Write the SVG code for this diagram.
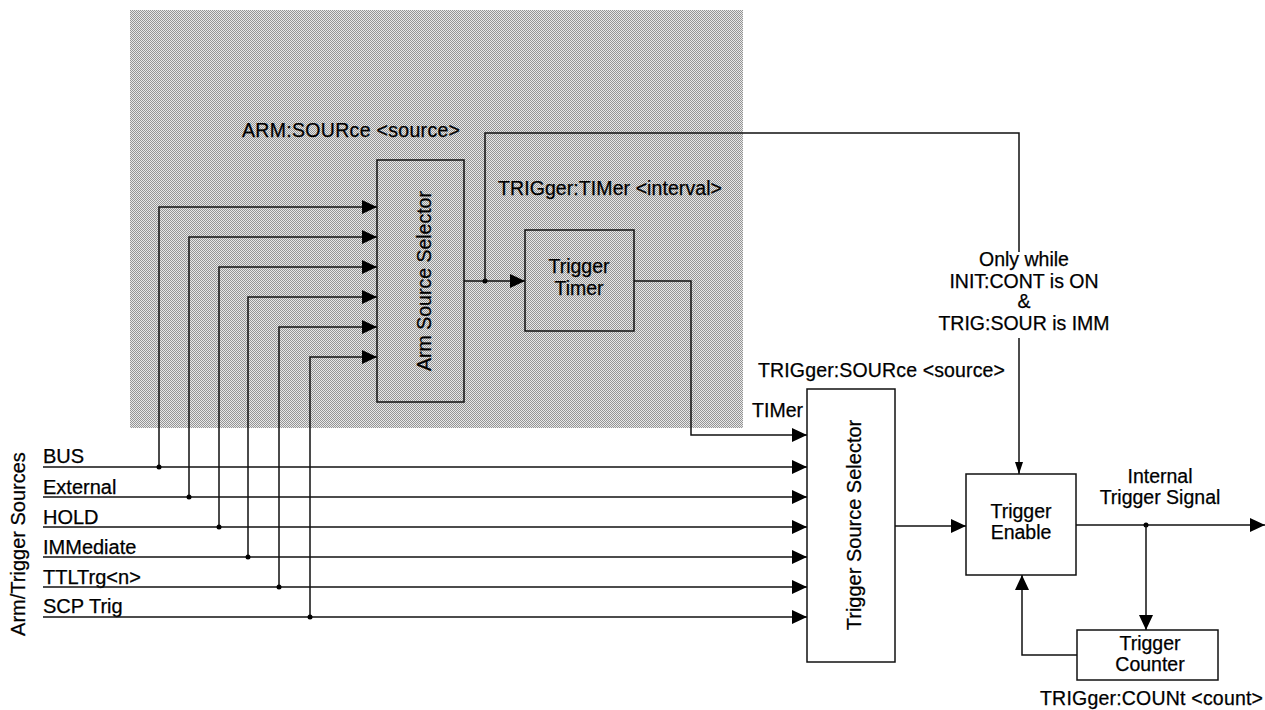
<svg xmlns="http://www.w3.org/2000/svg" width="1265" height="710" viewBox="0 0 1265 710">
<defs>
<pattern id="stipple" width="2" height="2" patternUnits="userSpaceOnUse">
<rect width="2" height="2" fill="#e8e8e8"/>
<rect width="1" height="1" fill="#959595"/>
<rect x="1" y="1" width="1" height="1" fill="#959595"/>
</pattern>
<marker id="arr" markerUnits="userSpaceOnUse" markerWidth="16" markerHeight="14" refX="15" refY="7" orient="auto"><path d="M0,0 L15,7 L0,14 z" fill="#000"/></marker>
<marker id="arrS" markerUnits="userSpaceOnUse" markerWidth="13" markerHeight="8" refX="12" refY="4" orient="auto"><path d="M0,0 L12,4 L0,8 z" fill="#000"/></marker>
</defs>
<style>
.ln{fill:none;stroke:#111;stroke-width:1.5}
.box{fill:#fff;stroke:#111;stroke-width:1.5}
.boxT{fill:none;stroke:#111;stroke-width:1.5}
text{font-family:"Liberation Sans",Arial,sans-serif;font-size:19.5px;fill:#000;stroke:#000;stroke-width:0.25}
.lbl{font-size:20px}
.c{text-anchor:middle}
.e{text-anchor:end}
.dot{fill:#000}
</style>
<rect width="1265" height="710" fill="#fff"/>
<rect id="shade" x="130" y="10" width="613" height="418" fill="url(#stipple)"/>

<g id="sources">
<text class="lbl" x="43" y="463">BUS</text>
<text class="lbl" x="43" y="494">External</text>
<text class="lbl" x="43" y="524">HOLD</text>
<text class="lbl" x="43" y="554">IMMediate</text>
<text class="lbl" x="43" y="584">TTLTrg&lt;n&gt;</text>
<text class="lbl" x="43" y="613">SCP Trig</text>
<text class="c lbl" transform="translate(25,544) rotate(-90)">Arm/Trigger Sources</text>
</g>

<g id="connectors">
<path class="ln" d="M43,467 H807" marker-end="url(#arr)"/>
<path class="ln" d="M43,497 H807" marker-end="url(#arr)"/>
<path class="ln" d="M43,527 H807" marker-end="url(#arr)"/>
<path class="ln" d="M43,557 H807" marker-end="url(#arr)"/>
<path class="ln" d="M43,587 H807" marker-end="url(#arr)"/>
<path class="ln" d="M43,617 H807" marker-end="url(#arr)"/>
<path class="ln" d="M159,467 V207 H377" marker-end="url(#arr)"/>
<path class="ln" d="M189,497 V237 H377" marker-end="url(#arr)"/>
<path class="ln" d="M219,527 V267 H377" marker-end="url(#arr)"/>
<path class="ln" d="M248,557 V297 H377" marker-end="url(#arr)"/>
<path class="ln" d="M279,587 V327 H377" marker-end="url(#arr)"/>
<path class="ln" d="M310,617 V357 H377" marker-end="url(#arr)"/>
<circle class="dot" cx="159" cy="467" r="2.5"/>
<circle class="dot" cx="189" cy="497" r="2.5"/>
<circle class="dot" cx="219" cy="527" r="2.5"/>
<circle class="dot" cx="248" cy="557" r="2.5"/>
<circle class="dot" cx="279" cy="587" r="2.5"/>
<circle class="dot" cx="310" cy="617" r="2.5"/>
<path class="ln" d="M464,281 H525" marker-end="url(#arr)"/>
<circle class="dot" cx="485" cy="281" r="2.5"/>
<path class="ln" d="M485,281 V133 H1019 V252"/>
<path class="ln" d="M1019,338 V474" marker-end="url(#arrS)"/>
<path class="ln" d="M634,281 H691 V435 H807" marker-end="url(#arr)"/>
<path class="ln" d="M895,526 H966" marker-end="url(#arr)"/>
<path class="ln" d="M1076,525 H1265" marker-end="url(#arr)"/>
<circle class="dot" cx="1146" cy="525" r="2.5"/>
<path class="ln" d="M1146,525 V630" marker-end="url(#arr)"/>
<path class="ln" d="M1077,655 H1022 V575" marker-end="url(#arr)"/>
</g>

<g id="armSourceSelector">
<rect class="boxT" x="377" y="160" width="87" height="242"/>
<text class="c" transform="translate(431,281) rotate(-90)">Arm Source Selector</text>
<text x="242" y="137" textLength="218" lengthAdjust="spacing">ARM:SOURce &lt;source&gt;</text>
</g>

<g id="triggerTimer">
<rect class="boxT" x="525" y="230" width="109" height="101"/>
<text class="c" x="579" y="273">Trigger</text>
<text class="c" x="579" y="295">Timer</text>
<text x="498" y="195" textLength="224" lengthAdjust="spacing">TRIGger:TIMer &lt;interval&gt;</text>
</g>

<g id="triggerSourceSelector">
<rect class="box" x="807" y="389" width="88" height="273"/>
<text class="c lbl" transform="translate(861,525) rotate(-90)">Trigger Source Selector</text>
<text x="758" y="377" textLength="247" lengthAdjust="spacing">TRIGger:SOURce &lt;source&gt;</text>
<text class="e" x="803" y="417">TIMer</text>
</g>

<g id="condition">
<text class="c" x="1024" y="266">Only while</text>
<text class="c" x="1024" y="288">INIT:CONT is ON</text>
<text class="c" x="1024" y="308">&amp;</text>
<text class="c" x="1024" y="330">TRIG:SOUR is IMM</text>
</g>

<g id="triggerEnable">
<rect class="box" x="966" y="474" width="110" height="101"/>
<text class="c" x="1021" y="518">Trigger</text>
<text class="c" x="1021" y="539">Enable</text>
</g>

<g id="internalSignal">
<text class="c" x="1160" y="483">Internal</text>
<text class="c" x="1160" y="504">Trigger Signal</text>
</g>

<g id="triggerCounter">
<rect class="box" x="1077" y="630" width="141" height="50"/>
<text class="c" x="1150" y="650">Trigger</text>
<text class="c" x="1150" y="671">Counter</text>
<text x="1040" y="705" textLength="223" lengthAdjust="spacing">TRIGger:COUNt &lt;count&gt;</text>
</g>
</svg>
